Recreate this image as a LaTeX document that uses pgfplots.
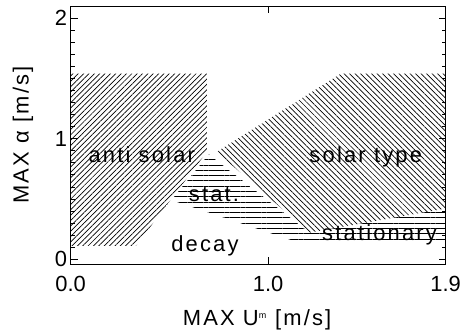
\documentclass[border=0pt]{standalone}
\usepackage{pgfplots}
\pgfplotsset{compat=1.18}
\usepackage{fontspec}
\setmainfont{Liberation Sans}[LetterSpace=10]
\newfontfamily\tickf{Liberation Sans}
\usetikzlibrary{patterns.meta}
\newcommand{\bigf}{\fontsize{22}{24}\selectfont}
\begin{document}
\begin{tikzpicture}
\path[use as bounding box] (-70.7bp,-70bp) rectangle (390.3bp,264bp);
\begin{axis}[
  at={(0,0)}, anchor=south west,
  scale only axis, width=375bp, height=258bp,
  xmin=0, xmax=1.9, ymin=-0.04, ymax=2.1,
  xtick={0,1,1.9}, xticklabels={0.0,1.0,1.9},
  ytick={0,1,2}, minor y tick num=9,
  major tick length=7bp, minor tick length=4bp,
  tick style={black, line width=0.6pt},
  axis line style={line width=0.8pt},
  tick label style={font=\tickf\bigf},
  /pgf/number format/assume math mode=true,
  xticklabel style={yshift=-9bp},
  xlabel={MAX U\textsuperscript{\fontsize{9}{9}\selectfont m} [m/s]},
  ylabel={MAX α [m/s]},
  label style={font=\bigf},
  xlabel style={at={(axis description cs:0.497,-0.217)}, anchor=center},
  ylabel style={at={(axis description cs:-0.127,0.5)}, anchor=center},
]
% anti solar
\addplot[draw=none, pattern={Lines[angle=45,distance=3.8pt,line width=0.7pt]}, pattern color=black]
  coordinates {(0,0.11) (0.33,0.11) (0.69,0.89) (0.69,1.54) (0,1.54)} -- cycle;
% stationary (horizontal hatch)
\addplot[draw=none, pattern={Lines[angle=0,distance=5.3pt,line width=0.8pt]}, pattern color=black]
  coordinates {(0.70,0.87) (0.51,0.49) (1.17,0.13) (1.9,0.13) (1.9,0.42) (1.21,0.22) (0.73,0.83)} -- cycle;
% solar type
\addplot[draw=none, pattern={Lines[angle=-45,distance=3.9pt,line width=0.7pt]}, pattern color=black]
  coordinates {(0.74,0.89) (1.37,1.54) (1.9,1.54) (1.9,0.42) (1.21,0.22)} -- cycle;
\node[anchor=base, font=\bigf] at (axis cs:0.36,0.80) {anti solar};
\node[anchor=base, font=\bigf] at (axis cs:1.495,0.80) {solar type};
\node[anchor=base, font=\bigf] at (axis cs:0.726,0.476) {stat.};
\node[anchor=base, font=\bigf] at (axis cs:1.565,0.158) {stationary};
\node[anchor=base, font=\bigf] at (axis cs:0.68,0.061) {decay};
\end{axis}
\end{tikzpicture}
\end{document}
